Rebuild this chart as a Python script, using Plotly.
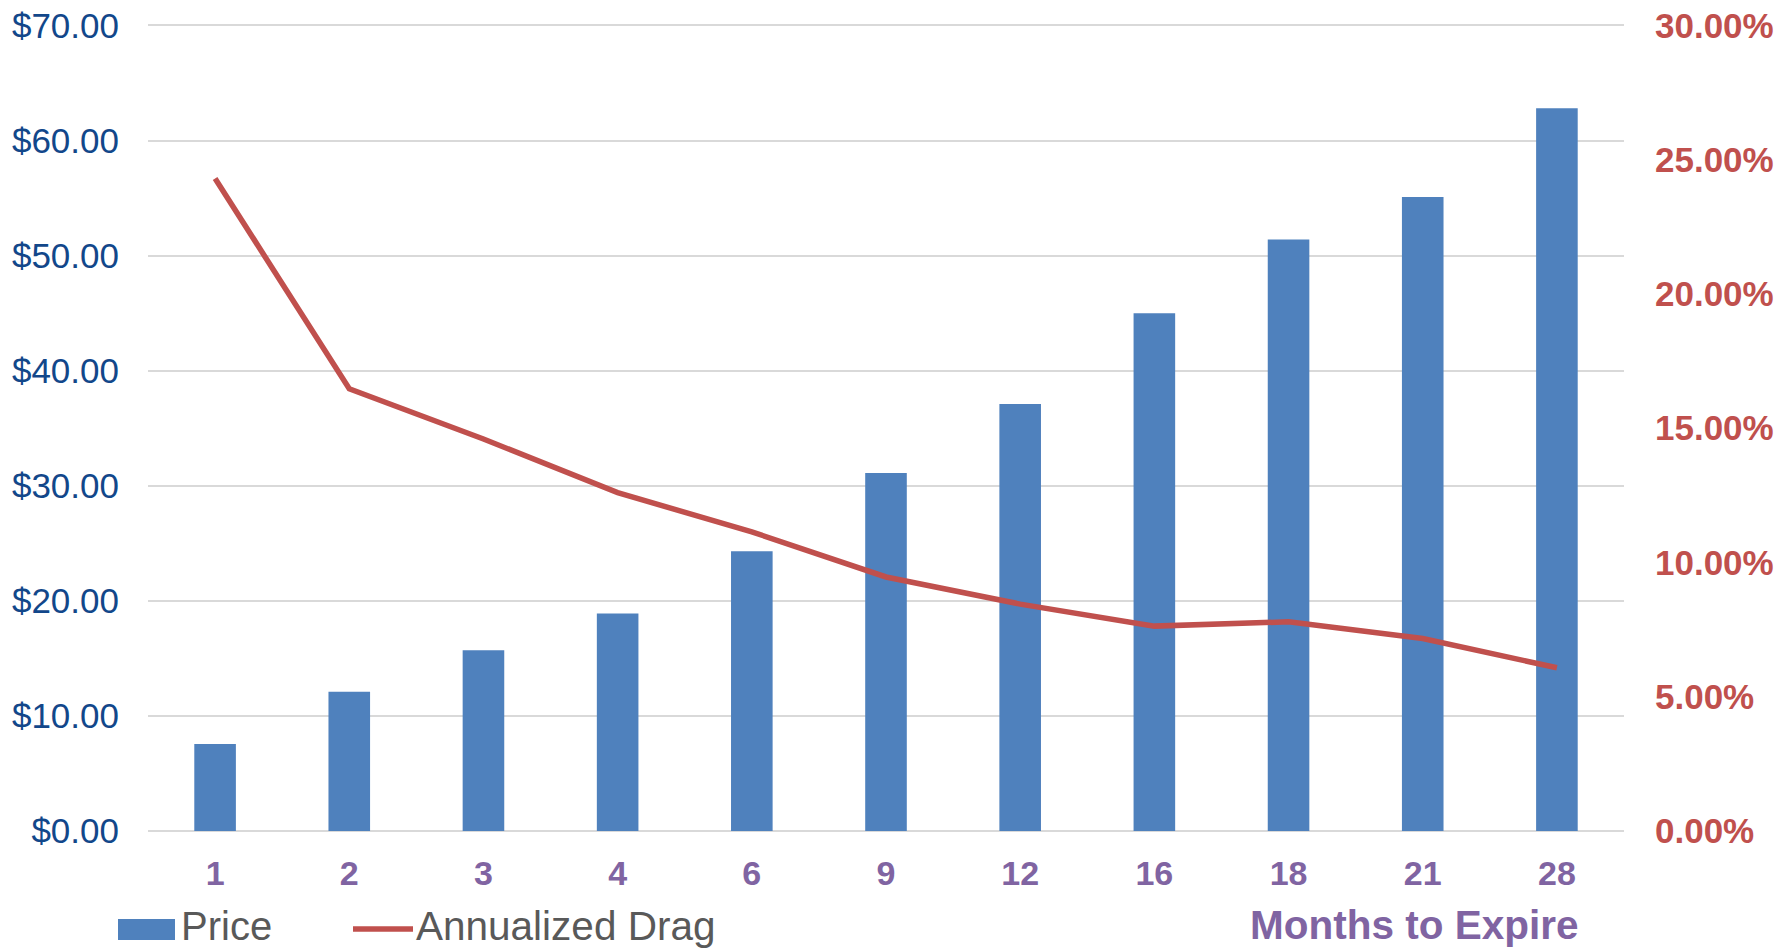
import plotly.graph_objects as go

# Months to expiry (categories) and series values
months = ["1", "2", "3", "4", "6", "9", "12", "16", "18", "21", "28"]
price = [7.55, 12.1, 15.7, 18.9, 24.3, 31.1, 37.1, 45.0, 51.4, 55.1, 62.8]
annualized_drag = [0.243, 0.1647, 0.146, 0.126, 0.1114, 0.0946, 0.0845, 0.0763, 0.0779, 0.0717, 0.0608]

W, H = 1788, 950
Y_TOP, Y_BOTTOM = 25, 831          # pixel rows of the $70 and $0 gridlines
ML, MR, MB = 148, 164, H - Y_BOTTOM

# a little headroom above $70 so the top gridline is drawn
Y_MAX = 70.3
Y2_MAX = 0.30 * Y_MAX / 70
PH = (Y_BOTTOM - Y_TOP) * Y_MAX / 70
MT = H - MB - PH
PW = W - ML - MR

BLUE = "#4F81BD"
RED = "#C0504D"
PURPLE = "#8064A2"
NAVY = "#12478A"
GRID = "#D9D9D9"
FONT = "Liberation Sans, Arial, sans-serif"


def px_x(p):
    return (p - ML) / PW


def px_y(p):
    return (H - MB - p) / PH


fig = go.Figure()
fig.add_trace(go.Bar(
    x=months, y=price, name="Price",
    marker=dict(color=BLUE, line=dict(width=0)),
    yaxis="y", showlegend=False,
))
fig.add_trace(go.Scatter(
    x=months, y=annualized_drag, name="Annualized Drag",
    mode="lines", line=dict(color=RED, width=5.5),
    yaxis="y2", showlegend=False,
))

fig.update_layout(
    width=W, height=H, autosize=False,
    margin=dict(l=ML, r=MR, t=MT, b=MB, pad=0),
    paper_bgcolor="white", plot_bgcolor="white",
    bargap=0.69,
    font=dict(family=FONT),
    xaxis=dict(
        type="category", showgrid=False, zeroline=False, showline=False,
        ticks="", ticklabelstandoff=19, automargin=False,
        tickfont=dict(family=FONT, size=34, color=PURPLE, weight="bold"),
    ),
    yaxis=dict(
        range=[0, Y_MAX], tickvals=[0, 10, 20, 30, 40, 50, 60, 70],
        tickformat="$,.2f",
        showgrid=True, gridcolor=GRID, gridwidth=2,
        zeroline=True, zerolinecolor=GRID, zerolinewidth=2,
        showline=False, ticks="", ticklabelstandoff=28, automargin=False,
        tickfont=dict(family=FONT, size=35, color=NAVY),
    ),
    yaxis2=dict(
        range=[0, Y2_MAX], tickvals=[0, 0.05, 0.10, 0.15, 0.20, 0.25, 0.30],
        tickformat=".2%",
        overlaying="y", side="right", showgrid=False, zeroline=False,
        showline=False, ticks="", ticklabelstandoff=30, automargin=False,
        tickfont=dict(family=FONT, size=35, color=RED, weight="bold"),
    ),
)

# Legend drawn beneath the plot
fig.add_shape(type="rect", xref="paper", yref="paper",
              x0=px_x(118), x1=px_x(175), y0=px_y(940), y1=px_y(919),
              fillcolor=BLUE, line=dict(width=0))
fig.add_shape(type="line", xref="paper", yref="paper",
              x0=px_x(353), x1=px_x(413), y0=px_y(929), y1=px_y(929),
              line=dict(color=RED, width=5.5))
fig.add_annotation(text="Price", xref="paper", yref="paper",
                   x=px_x(180), y=px_y(926), xanchor="left", yanchor="middle",
                   showarrow=False, borderpad=0,
                   font=dict(family=FONT, size=40, color="#595959"))
fig.add_annotation(text="Annualized Drag", xref="paper", yref="paper",
                   x=px_x(415), y=px_y(926), xanchor="left", yanchor="middle",
                   showarrow=False, borderpad=0,
                   font=dict(family=FONT, size=40.5, color="#595959"))
fig.add_annotation(text="<b>Months to Expire</b>", xref="paper", yref="paper",
                   x=px_x(1580), y=px_y(925), xanchor="right", yanchor="middle",
                   showarrow=False, borderpad=0,
                   font=dict(family=FONT, size=40.5, color=PURPLE))

fig.write_html("out.html")
